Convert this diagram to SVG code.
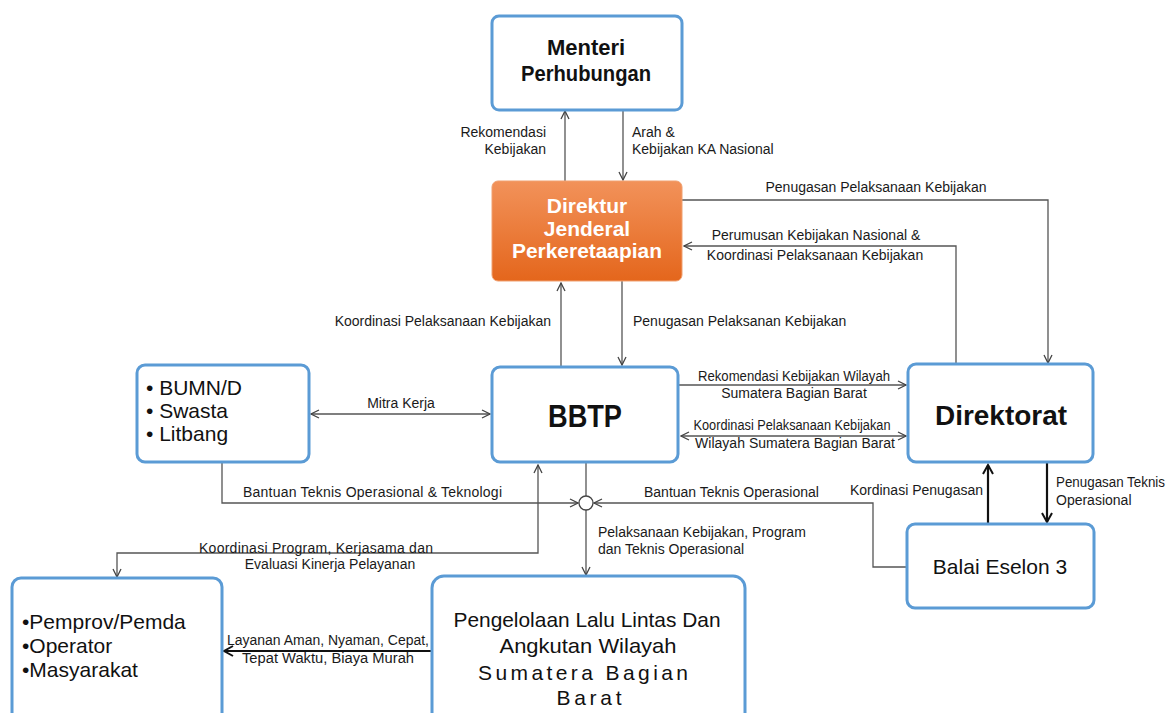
<svg xmlns="http://www.w3.org/2000/svg" width="1168" height="713" viewBox="0 0 1168 713">
<style>
.box{fill:#fff;stroke:#5B9BD5;stroke-width:3}
.ln{fill:none;stroke:#555;stroke-width:1.3}
.thk{fill:none;stroke:#111;stroke-width:2.2}
.lbl{font-family:"Liberation Sans",Arial,sans-serif;font-size:14px;fill:#1a1a1a}
.t{font-family:"Liberation Sans",Arial,sans-serif;fill:#111}
.b{font-weight:bold}
</style>
<defs>
<linearGradient id="og" x1="0" y1="0" x2="0" y2="1">
<stop offset="0" stop-color="#F2925A"/>
<stop offset="1" stop-color="#E4661C"/>
</linearGradient>
<marker id="ah" viewBox="0 0 10 10" refX="9" refY="5" markerWidth="10" markerHeight="10" markerUnits="userSpaceOnUse" orient="auto-start-reverse">
<path d="M1,1 L9,5 L1,9" fill="none" stroke="#444" stroke-width="1.3"/>
</marker>
<marker id="ahk" viewBox="0 0 12 12" refX="10" refY="6" markerWidth="12" markerHeight="12" markerUnits="userSpaceOnUse" orient="auto-start-reverse">
<path d="M1,1 L10,6 L1,11" fill="none" stroke="#111" stroke-width="2"/>
</marker>
</defs>

<g id="connectors">
<path class="ln" d="M565,181 V111" marker-end="url(#ah)"/>
<path class="ln" d="M623,110 V180" marker-end="url(#ah)"/>
<path class="ln" d="M682,200 H1048 V363" marker-end="url(#ah)"/>
<path class="ln" d="M956,364 V246 H684" marker-end="url(#ah)"/>
<path class="ln" d="M622,281 V365" marker-end="url(#ah)"/>
<path class="ln" d="M561,366 V283" marker-end="url(#ah)"/>
<path class="ln" d="M679,385 H906" marker-end="url(#ah)"/>
<path class="ln" d="M681,436 H906" marker-start="url(#ah)" marker-end="url(#ah)"/>
<path class="ln" d="M311,414 H490" marker-start="url(#ah)" marker-end="url(#ah)"/>
<path class="ln" d="M222,463 V503 H578" marker-end="url(#ah)"/>
<path class="ln" d="M907,567 H873 V503 H594" marker-end="url(#ah)"/>
<path class="ln" d="M586,463 V496"/>
<path class="ln" d="M586,510 V575" marker-end="url(#ah)"/>
<path class="ln" d="M117,577 V553 H538 V465" marker-start="url(#ah)" marker-end="url(#ah)"/>
<path class="thk" d="M988,524 V465" marker-end="url(#ahk)"/>
<path class="thk" d="M1047,463 V522" marker-end="url(#ahk)"/>
<path class="thk" d="M431,651 H224" marker-end="url(#ahk)"/>
<circle cx="586" cy="503" r="7" fill="#fff" stroke="#444" stroke-width="1.3"/>

<text class="lbl" x="546" y="137" text-anchor="end">Rekomendasi</text>
<text class="lbl" x="546" y="154" text-anchor="end">Kebijakan</text>
<text class="lbl" x="632" y="137">Arah &amp;</text>
<text class="lbl" x="632" y="154">Kebijakan KA Nasional</text>
<text class="lbl" x="876" y="192" text-anchor="middle">Penugasan Pelaksanaan Kebijakan</text>
<text class="lbl" x="816" y="240" text-anchor="middle">Perumusan Kebijakan Nasional &amp;</text>
<text class="lbl" x="815" y="260" text-anchor="middle">Koordinasi Pelaksanaan Kebijakan</text>
<text class="lbl" x="551" y="326" text-anchor="end">Koordinasi Pelaksanaan Kebijakan</text>
<text class="lbl" x="633" y="326">Penugasan Pelaksanan Kebijakan</text>
<text class="lbl" x="794" y="381" text-anchor="middle" textLength="192" lengthAdjust="spacingAndGlyphs">Rekomendasi Kebijakan Wilayah</text>
<text class="lbl" x="794" y="398" text-anchor="middle">Sumatera Bagian Barat</text>
<text class="lbl" x="792" y="430" text-anchor="middle" textLength="197" lengthAdjust="spacingAndGlyphs">Koordinasi Pelaksanaan Kebijakan</text>
<text class="lbl" x="795" y="448" text-anchor="middle" textLength="200" lengthAdjust="spacing">Wilayah Sumatera Bagian Barat</text>
<text class="lbl" x="401" y="408" text-anchor="middle">Mitra Kerja</text>
<text class="lbl" x="243" y="497" textLength="259" lengthAdjust="spacing">Bantuan Teknis Operasional  &amp; Teknologi</text>
<text class="lbl" x="644" y="497">Bantuan Teknis Operasional</text>
<text class="lbl" x="983" y="495" text-anchor="end">Kordinasi Penugasan</text>
<text class="lbl" x="1056" y="487" textLength="109" lengthAdjust="spacingAndGlyphs">Penugasan Teknis</text>
<text class="lbl" x="1056" y="505">Operasional</text>
<text class="lbl" x="598" y="537">Pelaksanaan Kebijakan, Program</text>
<text class="lbl" x="598" y="554">dan Teknis Operasional</text>
<text class="lbl" x="199" y="553" textLength="234" lengthAdjust="spacing">Koordinasi Program, Kerjasama dan</text>
<text class="lbl" x="330" y="569" text-anchor="middle">Evaluasi Kinerja Pelayanan</text>
<text class="lbl" x="328" y="645" text-anchor="middle" font-size="13" textLength="202" lengthAdjust="spacingAndGlyphs">Layanan Aman, Nyaman, Cepat,</text>
<text class="lbl" x="328" y="663" text-anchor="middle" font-size="13" textLength="172" lengthAdjust="spacingAndGlyphs">Tepat Waktu, Biaya Murah</text>
</g>

<g id="menteri">
<rect class="box" x="492" y="16" width="190" height="94" rx="7"/>
<text class="t b" x="586" y="55" font-size="22" text-anchor="middle">Menteri</text>
<text class="t b" x="586" y="81" font-size="22" text-anchor="middle" textLength="130" lengthAdjust="spacingAndGlyphs">Perhubungan</text>
</g>

<g id="dirjen">
<rect x="492" y="181" width="190" height="100" rx="6" fill="url(#og)" stroke="#F0A070" stroke-width="1"/>
<text class="t b" x="587" y="213" font-size="21" text-anchor="middle" style="fill:#fff">Direktur</text>
<text class="t b" x="587" y="236" font-size="21" text-anchor="middle" style="fill:#fff">Jenderal</text>
<text class="t b" x="587" y="258" font-size="21" text-anchor="middle" style="fill:#fff" textLength="150" lengthAdjust="spacingAndGlyphs">Perkeretaapian</text>
</g>

<g id="bbtp">
<rect class="box" x="492" y="367" width="186" height="95" rx="8"/>
<text class="t b" x="585" y="427" font-size="32" text-anchor="middle" textLength="74" lengthAdjust="spacingAndGlyphs">BBTP</text>
</g>

<g id="direktorat">
<rect class="box" x="908" y="364" width="185" height="98" rx="8"/>
<text class="t b" x="1001" y="425" font-size="28" text-anchor="middle" textLength="132" lengthAdjust="spacingAndGlyphs">Direktorat</text>
</g>

<g id="mitra">
<rect class="box" x="137" y="365" width="172" height="97" rx="8"/>
<text class="t" x="146" y="395" font-size="21">• BUMN/D</text>
<text class="t" x="146" y="418" font-size="21">• Swasta</text>
<text class="t" x="146" y="441" font-size="21">• Litbang</text>
</g>

<g id="balai">
<rect class="box" x="907" y="524" width="187" height="84" rx="8"/>
<text class="t" x="1000" y="574" font-size="21" text-anchor="middle">Balai Eselon 3</text>
</g>

<g id="masyarakat">
<rect class="box" x="12" y="578" width="210" height="150" rx="9"/>
<text class="t" x="22" y="629" font-size="21">•Pemprov/Pemda</text>
<text class="t" x="22" y="653" font-size="21">•Operator</text>
<text class="t" x="22" y="677" font-size="21">•Masyarakat</text>
</g>

<g id="pengelolaan">
<rect class="box" x="432" y="576" width="313" height="150" rx="12"/>
<text class="t" x="587" y="627" font-size="21" text-anchor="middle" textLength="267" lengthAdjust="spacingAndGlyphs">Pengelolaan Lalu Lintas Dan</text>
<text class="t" x="588" y="653" font-size="21" text-anchor="middle" textLength="177" lengthAdjust="spacingAndGlyphs">Angkutan Wilayah</text>
<text class="t" x="583" y="680" font-size="21" text-anchor="middle" textLength="210" lengthAdjust="spacing">Sumatera Bagian</text>
<text class="t" x="589" y="705" font-size="21" text-anchor="middle" textLength="65" lengthAdjust="spacing">Barat</text>
</g>
</svg>
